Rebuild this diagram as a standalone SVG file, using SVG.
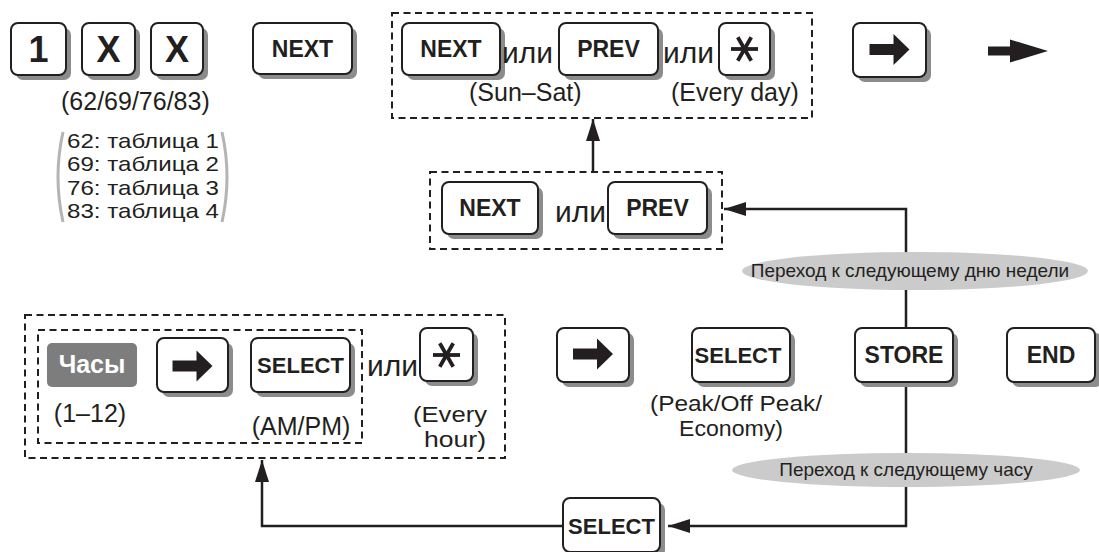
<svg xmlns="http://www.w3.org/2000/svg" width="1099" height="552" viewBox="0 0 1099 552">
<defs>
<style>
text{font-family:"Liberation Sans",Arial,sans-serif;fill:#231f20}
.k{fill:#fff;stroke:#231f20;stroke-width:2}
.sh{fill:#8c8c8c}
.kl{font-weight:bold;font-size:23px;text-anchor:middle}
.ks{font-weight:bold;font-size:22px;text-anchor:middle}
.big{font-weight:bold;font-size:36px;text-anchor:middle}
.t{font-size:25px}
.t2{font-size:22px}
.l{font-size:20.8px}
.m{text-anchor:middle}
.ili{font-size:30px}
.dash{fill:none;stroke:#231f20;stroke-width:2;stroke-dasharray:7 4.5}
.con{fill:none;stroke:#231f20;stroke-width:2.5}
.star{stroke:#231f20;stroke-width:3.8;stroke-linecap:butt}
.ell{fill:#cbcbcb}
.et{font-size:19px;text-anchor:middle}
</style>
<marker id="ah" markerUnits="userSpaceOnUse" markerWidth="22" markerHeight="14" refX="22" refY="7" orient="auto">
<path d="M0,0 L22,7 L0,14 Z" fill="#231f20"/>
</marker>
<path id="arr" d="M-20,-5.5 H4 V-15.5 L20,0 L4,15.5 V5.5 H-20 Z" fill="#231f20"/>
<g id="st">
<line class="star" x1="-13.5" y1="0" x2="13.5" y2="0"/>
<line class="star" x1="-6.75" y1="-11.7" x2="6.75" y2="11.7"/>
<line class="star" x1="6.75" y1="-11.7" x2="-6.75" y2="11.7"/>
</g>
</defs>

<g id="connectors">
<path class="con" d="M906,328 V209 H724" marker-end="url(#ah)"/>
<path class="con" d="M593,172 V119" marker-end="url(#ah)"/>
<path class="con" d="M906,386 V526 H668" marker-end="url(#ah)"/>
<path class="con" d="M563,526 H262 V460" marker-end="url(#ah)"/>
<ellipse class="ell" cx="915" cy="271" rx="173" ry="19"/>
<text class="et" x="910" y="277">Переход к следующему дню недели</text>
<ellipse class="ell" cx="906" cy="470" rx="174" ry="17"/>
<text class="et" x="906" y="476">Переход к следующему часу</text>
</g>

<g id="key-1"><rect class="sh" x="16" y="28" width="55" height="52" rx="7"/><rect class="k" x="11" y="23" width="55" height="52" rx="7"/><text class="big" x="38.5" y="62">1</text></g>
<g id="key-x1"><rect class="sh" x="87" y="28" width="53" height="52" rx="7"/><rect class="k" x="82" y="23" width="53" height="52" rx="7"/><text class="big" x="108.5" y="62">X</text></g>
<g id="key-x2"><rect class="sh" x="156" y="28" width="52" height="52" rx="7"/><rect class="k" x="151" y="23" width="52" height="52" rx="7"/><text class="big" x="177" y="62">X</text></g>

<g id="codes">
<text class="t" x="61" y="110">(62/69/76/83)</text>
<path d="M63,132 Q53,177 63,222" fill="none" stroke="#b4b4b4" stroke-width="3"/>
<path d="M222,132 Q232,177 222,222" fill="none" stroke="#b4b4b4" stroke-width="3"/>
<text class="l" x="67" y="148" textLength="152" lengthAdjust="spacingAndGlyphs">62: таблица 1</text>
<text class="l" x="67" y="171.3" textLength="152" lengthAdjust="spacingAndGlyphs">69: таблица 2</text>
<text class="l" x="67" y="194.6" textLength="152" lengthAdjust="spacingAndGlyphs">76: таблица 3</text>
<text class="l" x="67" y="217.9" textLength="152" lengthAdjust="spacingAndGlyphs">83: таблица 4</text>
</g>

<g id="key-next"><rect class="sh" x="258" y="28" width="99" height="51" rx="7"/><rect class="k" x="253" y="23" width="99" height="51" rx="7"/><text class="kl" x="302.5" y="57">NEXT</text></g>

<g id="day-select">
<rect class="dash" x="392" y="13" width="420" height="105"/>
<rect class="sh" x="407" y="28" width="98" height="52" rx="7"/><rect class="k" x="402" y="23" width="98" height="52" rx="7"/><text class="kl" x="451" y="57">NEXT</text>
<text class="ili" x="502" y="63">или</text>
<rect class="sh" x="564" y="28" width="99" height="52" rx="7"/><rect class="k" x="559" y="23" width="99" height="52" rx="7"/><text class="kl" x="608.5" y="57">PREV</text>
<text class="ili" x="663" y="63">или</text>
<rect class="sh" x="724" y="28" width="51" height="52" rx="7"/><rect class="k" x="719" y="23" width="51" height="52" rx="7"/><use href="#st" x="744.5" y="49"/>
<text class="t" x="469" y="101">(Sun–Sat)</text>
<text class="t" x="671" y="101">(Every day)</text>
</g>

<g id="key-arrow1"><rect class="sh" x="858" y="28" width="73" height="54" rx="7"/><rect class="k" x="853" y="23" width="73" height="54" rx="7"/><use href="#arr" x="889.5" y="49.5"/></g>
<g id="big-arrow"><path d="M988,46.5 H1010 V39.5 L1048,51 L1010,62.5 V55.5 H988 Z" fill="#231f20"/></g>

<g id="next-prev">
<rect class="dash" x="430" y="172" width="292" height="77"/>
<rect class="sh" x="447" y="187" width="96" height="52" rx="7"/><rect class="k" x="442" y="182" width="96" height="52" rx="7"/><text class="kl" x="490" y="216">NEXT</text>
<text class="ili" x="555" y="222">или</text>
<rect class="sh" x="613" y="187" width="99" height="52" rx="7"/><rect class="k" x="608" y="182" width="99" height="52" rx="7"/><text class="kl" x="657.5" y="216">PREV</text>
</g>

<g id="hour-select">
<rect class="dash" x="25" y="315" width="480" height="143"/>
<rect class="dash" x="38" y="330" width="324" height="113"/>
<rect x="47" y="343" width="90" height="44" rx="5" fill="#7d7d7d"/>
<text x="92" y="373" style="font-weight:bold;font-size:25px;fill:#fff;text-anchor:middle">Часы</text>
<text class="t m" x="90" y="422">(1–12)</text>
<rect class="sh" x="162" y="343" width="71" height="54" rx="7"/><rect class="k" x="157" y="338" width="71" height="54" rx="7"/><use href="#arr" x="192.5" y="366"/>
<rect class="sh" x="256" y="343" width="99" height="54" rx="7"/><rect class="k" x="251" y="338" width="99" height="54" rx="7"/><text class="ks" x="300.5" y="373">SELECT</text>
<text class="t m" x="301" y="435">(AM/PM)</text>
<text class="ili" x="367" y="376">или</text>
<rect class="sh" x="425" y="333" width="53" height="53" rx="7"/><rect class="k" x="420" y="328" width="53" height="53" rx="7"/><use href="#st" x="446.5" y="355"/>
<text class="t2" x="413" y="422" textLength="74" lengthAdjust="spacingAndGlyphs">(Every</text>
<text class="t2" x="424" y="447" textLength="62" lengthAdjust="spacingAndGlyphs">hour)</text>
</g>

<g id="key-arrow2"><rect class="sh" x="562" y="333" width="72" height="54" rx="7"/><rect class="k" x="557" y="328" width="72" height="54" rx="7"/><use href="#arr" x="593" y="354"/></g>
<g id="key-select"><rect class="sh" x="697" y="333" width="98" height="54" rx="7"/><rect class="k" x="692" y="328" width="98" height="54" rx="7"/><text class="ks" x="738" y="363">SELECT</text>
<text class="t2" x="650" y="411" textLength="172" lengthAdjust="spacingAndGlyphs">(Peak/Off Peak/</text>
<text class="t2" x="679" y="436" textLength="104" lengthAdjust="spacingAndGlyphs">Economy)</text></g>
<g id="key-store"><rect class="sh" x="860" y="333" width="98" height="54" rx="7"/><rect class="k" x="855" y="328" width="98" height="54" rx="7"/><text class="kl" x="904" y="363">STORE</text></g>
<g id="key-end"><rect class="sh" x="1012" y="333" width="90" height="54" rx="7"/><rect class="k" x="1007" y="328" width="88" height="54" rx="7"/><text class="kl" x="1051" y="363">END</text></g>
<g id="key-select2"><rect class="sh" x="568" y="503" width="97" height="54" rx="7"/><rect class="k" x="563" y="498" width="97" height="54" rx="7"/><text class="ks" x="611.5" y="534">SELECT</text></g>
</svg>
